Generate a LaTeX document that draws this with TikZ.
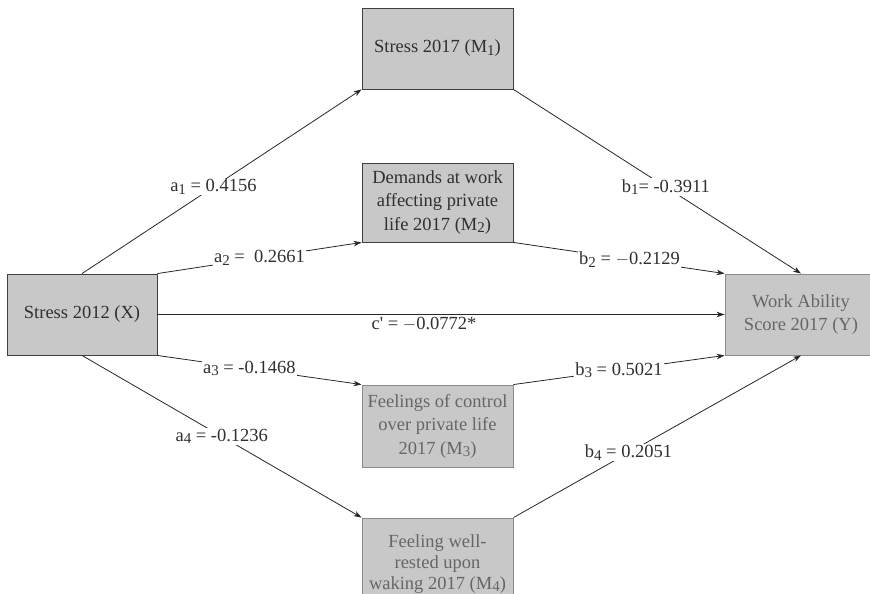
\documentclass[tikz,border=0pt]{standalone}
\usepackage{fontspec}
\setmainfont{Liberation Serif}
\usetikzlibrary{arrows.meta}
\definecolor{boxfill}{HTML}{C8C8C8}
\definecolor{darkedge}{HTML}{404040}
\definecolor{softedge}{HTML}{8A8A8A}
\definecolor{softtext}{HTML}{666666}
\definecolor{inktext}{HTML}{303030}
% large, lowered subscript
\newcommand{\lowidx}[1]{\raisebox{-0.3ex}{\fontsize{15}{15}\selectfont #1}}
\begin{document}
\begin{tikzpicture}[x=1pt,y=-1pt,
  varbox/.style={draw=darkedge,fill=boxfill,line width=0.9pt,inner sep=0pt,
    text=inktext,align=center,font=\fontsize{18.5}{23.5}\selectfont},
  softbox/.style={varbox,draw=softedge,text=softtext},
  path/.style={draw=black!85,line width=0.8pt,-{Stealth[length=8pt,width=5.5pt]}},
  coef/.style={fill=white,inner sep=1pt,text=inktext,font=\fontsize{18.5}{20}\selectfont}]
\useasboundingbox (0,0) rectangle (870,594);

% boxes: predictor, mediators, outcome
\node[varbox,minimum width=150pt,minimum height=81pt] (X) at (82,314.5) {Stress 2012 (X)};
\node[varbox,minimum width=151pt,minimum height=81pt] (M1) at (437.5,48.5) {Stress 2017 (M\lowidx{1})};
\node[varbox,minimum width=151pt,minimum height=79pt] (M2) at (437.5,202.5) {Demands at work\\affecting private\\life 2017 (M\lowidx{2})};
\node[softbox,minimum width=151pt,minimum height=82pt] (M3) at (437.5,426) {Feelings of control\\over private life\\2017 (M\lowidx{3})};
\node[softbox,minimum width=151pt,minimum height=100pt] (M4) at (437.5,568) {};
\node[text=softtext,align=center,font=\fontsize{18.5}{21}\selectfont] (M4t) at (437.5,564) {Feeling well-\\rested upon\\waking 2017 (M\lowidx{4})};
\node[softbox,minimum width=152pt,minimum height=81pt] (Y) at (801,314.5) {Work Ability\\Score 2017 (Y)};

% paths into the mediators
\draw[path] (X.north) -- (M1.south west) node[coef,pos=0.47] {a\lowidx{1} = 0.4156};
\draw[path] (X.north east) -- (M2.south west) node[coef,pos=0.5] {a\lowidx{2} =\ \ 0.2661};
\draw[path] (X.south east) -- (M3.north west) node[coef,pos=0.45] {a\lowidx{3} = -0.1468};
\draw[path] (X.south) -- (M4.north west) node[coef,pos=0.5] {a\lowidx{4} = -0.1236};

% direct path
\draw[path] (X.east) -- (Y.west) node[coef,pos=0.47,yshift=-10pt] {c\textquotesingle{} = $-$0.0772*};

% paths into the outcome
\draw[path] (M1.south east) -- (Y.north) node[coef,pos=0.53] {b\lowidx{1}= -0.3911};
\draw[path] (M2.south east) -- (Y.north west) node[coef,pos=0.55] {b\lowidx{2} = $-$0.2129};
\draw[path] (M3.north east) -- (Y.south west) node[coef,pos=0.5] {b\lowidx{3} = 0.5021};
\draw[path] (M4.north east) -- (Y.south) node[coef,pos=0.4] {b\lowidx{4} = 0.2051};
\end{tikzpicture}
\end{document}
